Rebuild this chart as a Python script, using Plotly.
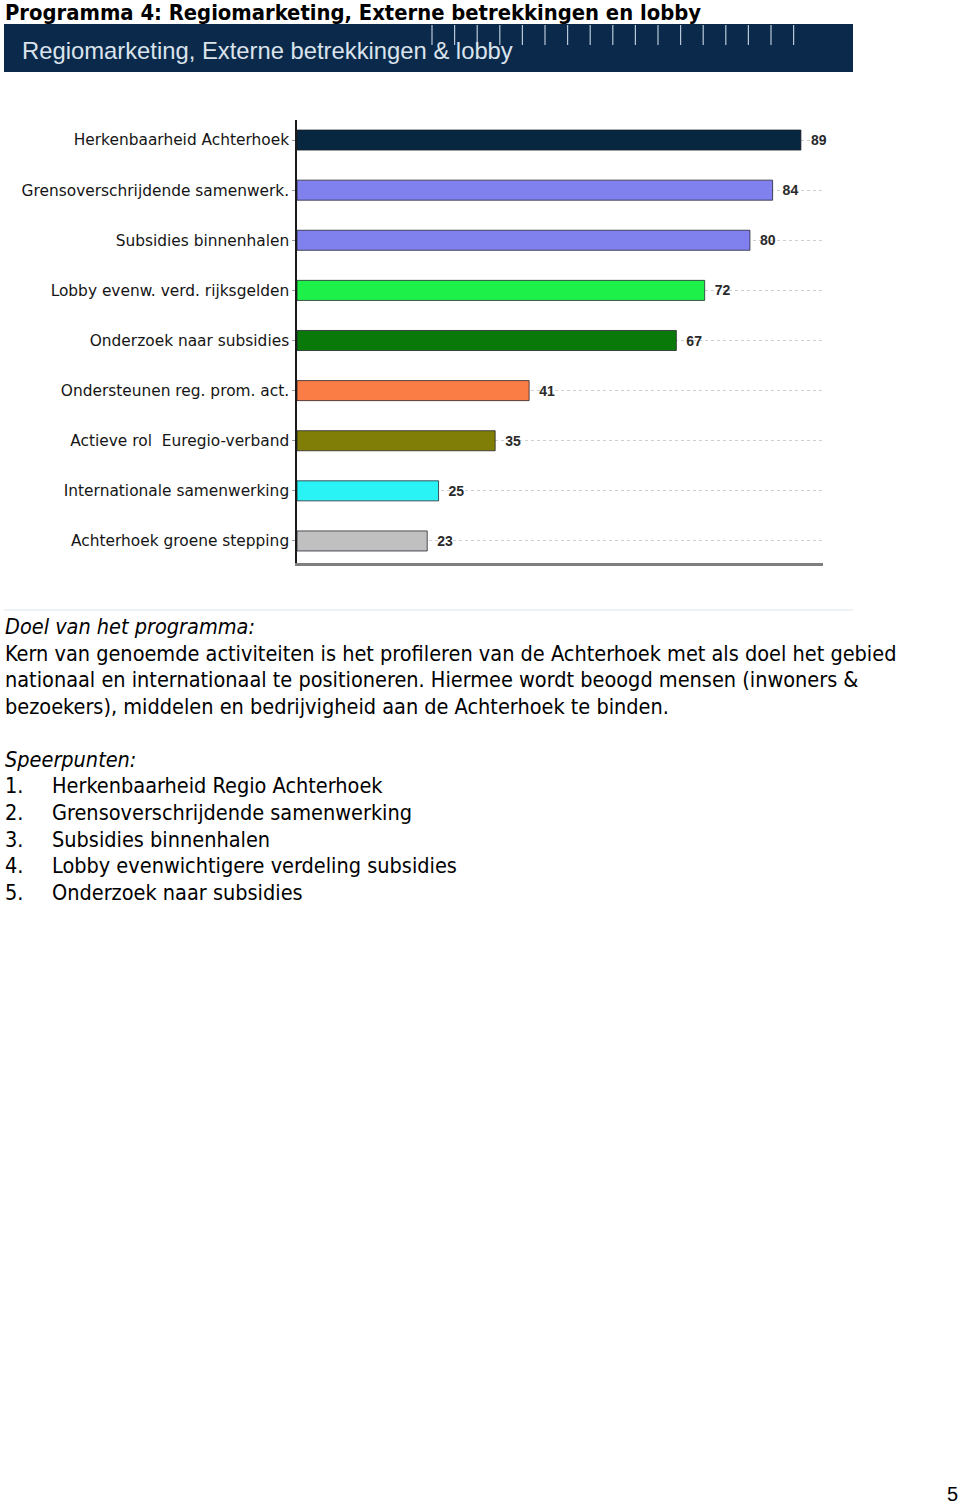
import plotly.graph_objects as go

W, H = 960, 1507

# ---- data ----
categories = [
    "Herkenbaarheid Achterhoek",
    "Grensoverschrijdende samenwerk.",
    "Subsidies binnenhalen",
    "Lobby evenw. verd. rijksgelden",
    "Onderzoek naar subsidies",
    "Ondersteunen reg. prom. act.",
    "Actieve rol  Euregio-verband",
    "Internationale samenwerking",
    "Achterhoek groene stepping",
]
values = [89, 84, 80, 72, 67, 41, 35, 25, 23]
bar_colors = ["#07263f", "#8080ee", "#8080ee", "#1ef04a", "#097a0a",
              "#fb7d46", "#807e06", "#2af3f5", "#c0c0c0"]

page_title = "Programma 4: Regiomarketing, Externe betrekkingen en lobby"
banner_title = "Regiomarketing, Externe betrekkingen &amp; lobby"
doel_heading = "Doel van het programma:"
doel_lines = [
    "Kern van genoemde activiteiten is het profileren van de Achterhoek met als doel het gebied",
    "nationaal en internationaal te positioneren. Hiermee wordt beoogd mensen (inwoners &amp;",
    "bezoekers), middelen en bedrijvigheid aan de Achterhoek te binden.",
]
speer_heading = "Speerpunten:"
speer_nums = ["1.", "2.", "3.", "4.", "5."]
speer_items = [
    "Herkenbaarheid Regio Achterhoek",
    "Grensoverschrijdende samenwerking",
    "Subsidies binnenhalen",
    "Lobby evenwichtigere verdeling subsidies",
    "Onderzoek naar subsidies",
]
page_number = "5"


def px(x):
    return x / W


def py(y):
    return 1 - y / H


fig = go.Figure()
fig.add_trace(go.Bar(
    y=categories, x=values, orientation="h",
    marker=dict(color=bar_colors, line=dict(color="rgba(30,30,40,0.75)", width=1)),
    width=0.4,
    text=values, texttemplate="\u2002<b>%{x}</b>", textposition="outside",
    textfont=dict(family="Liberation Sans, Arial, sans-serif", size=14, color="#2a2a2a"),
    cliponaxis=False,
    hoverinfo="skip",
))

fig.update_layout(
    width=W, height=H,
    margin=dict(l=0, r=0, t=0, b=0),
    paper_bgcolor="white", plot_bgcolor="white",
    showlegend=False,
    xaxis=dict(domain=[px(297), px(823)], range=[0, 92.9], showgrid=False,
               zeroline=False, showticklabels=False, ticks="",
               showline=True, linecolor="#7f7f7f", linewidth=2.5, fixedrange=True),
    yaxis=dict(domain=[py(563), py(120)], type="category",
               categoryorder="array", categoryarray=categories,
               range=[8.44, -0.4], showgrid=True, gridcolor="#cfcfcf",
               griddash="dot", gridwidth=1, zeroline=False,
               showline=True, linecolor="#1a1a1a", linewidth=1.5,
               ticks="outside", ticklen=3, tickcolor="#9a9a9a",
               tickfont=dict(family="DejaVu Sans, sans-serif", size=15.4, color="#151515"),
               fixedrange=True),
)

shapes = []
# banner
shapes.append(dict(type="rect", xref="paper", yref="paper",
                   x0=px(4), x1=px(853), y0=py(72), y1=py(24),
                   fillcolor="#0b2a4b", line=dict(width=0), layer="below"))
# decorative ticks on banner
for i in range(17):
    xx = 432 + i * 22.6
    shapes.append(dict(type="line", xref="paper", yref="paper",
                       x0=px(xx), x1=px(xx), y0=py(25), y1=py(45),
                       line=dict(color="#b9c8d8", width=1.2)))
# faint separator
shapes.append(dict(type="line", xref="paper", yref="paper",
                   x0=px(4), x1=px(853), y0=py(610), y1=py(610),
                   line=dict(color="#e6eef2", width=1.5)))
fig.update_layout(shapes=shapes)

body_font = "DejaVu Sans Condensed, Liberation Sans, sans-serif"
bsize = 21.5
ann = []
ann.append(dict(text="<b>" + page_title + "</b>", x=px(3), y=py(12),
                font=dict(family=body_font, size=21.8, color="#000000")))
ann.append(dict(text=banner_title, x=px(20), y=py(51),
                font=dict(family="Liberation Sans, Arial, sans-serif", size=23.8, color="#dbe3ec")))
ann.append(dict(text="<i>" + doel_heading + "</i>", x=px(3), y=py(626),
                font=dict(family=body_font, size=bsize, color="#000000")))
for i, line in enumerate(doel_lines):
    ann.append(dict(text=line, x=px(3), y=py(653 + i * 26.6),
                    font=dict(family=body_font, size=bsize, color="#000000")))
ann.append(dict(text="<i>" + speer_heading + "</i>", x=px(3), y=py(759),
                font=dict(family=body_font, size=bsize, color="#000000")))
for i, (n, t) in enumerate(zip(speer_nums, speer_items)):
    yy = py(786 + i * 26.6)
    ann.append(dict(text=n, x=px(3), y=yy,
                    font=dict(family=body_font, size=bsize, color="#000000")))
    ann.append(dict(text=t, x=px(50), y=yy,
                    font=dict(family=body_font, size=bsize, color="#000000")))
ann.append(dict(text=page_number, x=px(952), y=py(1494), xanchor="center",
                font=dict(family="Liberation Sans, Arial, sans-serif", size=20, color="#000000")))

for a in ann:
    a.setdefault("xanchor", "left")
    a.update(xref="paper", yref="paper", yanchor="middle", showarrow=False)
fig.update_layout(annotations=ann)

fig.write_html("out.html")
